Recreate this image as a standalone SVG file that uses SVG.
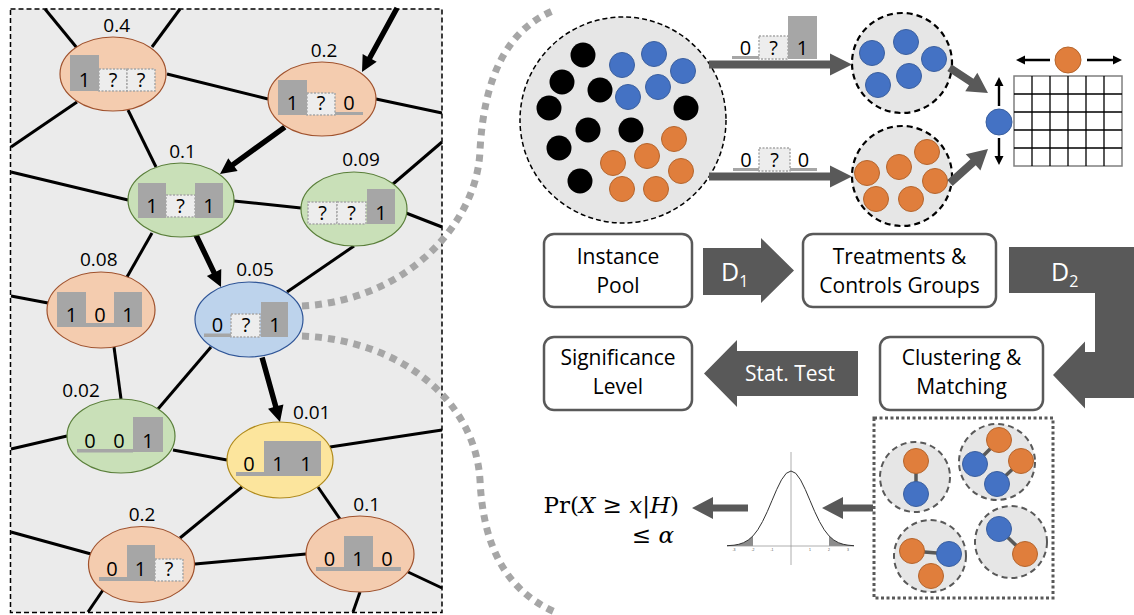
<svg xmlns="http://www.w3.org/2000/svg" width="1134" height="615" viewBox="0 0 1134 615">
<defs>
<style>
.lbl{font-family:"Open Sans","Liberation Sans",sans-serif;font-size:19px;fill:#000;text-anchor:middle}
.dig{font-family:"Open Sans","Liberation Sans",sans-serif;font-size:20px;fill:#000;text-anchor:middle}
.edge{stroke:#000;stroke-width:3;fill:none}
.or{fill:#F4CCAF;stroke:#A0522D;stroke-width:1.2}
.gr{fill:#C9E0B8;stroke:#5A7F3A;stroke-width:1.2}
.bl{fill:#BDD3EC;stroke:#2F5597;stroke-width:1.2}
.ye{fill:#FCE59D;stroke:#B08A1A;stroke-width:1.2}
.bar{fill:#A6A6A6}
.unk{fill:#EDEDED;stroke:#A6A6A6;stroke-width:1.5;stroke-dasharray:2 1.5}
.dk{fill:#595959}
.box{fill:#fff;stroke:#595959;stroke-width:2.5}
.bt{font-family:"Open Sans","Liberation Sans",sans-serif;font-size:21px;fill:#000;text-anchor:middle}
.wt{font-family:"Open Sans","Liberation Sans",sans-serif;font-size:21px;fill:#fff}
.dd{font-family:"Open Sans","Liberation Sans",sans-serif;font-size:25px;fill:#fff}
.sub{font-size:16px}
.db{fill:#4472C4;stroke:#3A5F9F;stroke-width:1}
.do{fill:#E07E3C;stroke:#B5652D;stroke-width:1}
.dbk{fill:#000}
.pool{fill:#E6E6E6;stroke:#000;stroke-width:1.5;stroke-dasharray:5 3}
.sc{fill:#E6E6E6;stroke:#000;stroke-width:2.2;stroke-dasharray:6 4}
.cl{fill:#E6E6E6;stroke:#595959;stroke-width:2;stroke-dasharray:6 4}
.link{stroke:#595959;stroke-width:3.5}
.gdash{fill:none;stroke:#A6A6A6;stroke-width:7;stroke-dasharray:7 6}
.blk{fill:#000}
.tick{font-family:"Liberation Sans",sans-serif;font-size:3.5px;fill:#555;text-anchor:middle}
.math{font-family:"DejaVu Serif","Liberation Serif",serif;font-size:23px;fill:#000;text-anchor:end}
</style>
</defs>
<rect width="1134" height="615" fill="#fff"/>

<!-- left panel -->
<rect id="panel" x="10.5" y="9" width="431.5" height="603.5" fill="#EBEBEB" stroke="#000" stroke-width="1.5" stroke-dasharray="5 3"/>

<g id="connectors">
  <g class="edge">
    <path d="M77,48 L45,9"/>
    <path d="M152,47 L180,9"/>
    <path d="M77,102 L11,147"/>
    <path d="M128,110 L156,167"/>
    <path d="M167,74 L268,99"/>
    <path d="M11,172 L128,200"/>
    <path d="M376,99 L442,113"/>
    <path d="M234,201 L301,208"/>
    <path d="M393,184 L442,142"/>
    <path d="M406,213 L442,227"/>
    <path d="M354,246 L287,292"/>
    <path d="M152,233 L127,277"/>
    <path d="M11,296 L48,303"/>
    <path d="M114,347 L121,399"/>
    <path d="M211,347 L158,409"/>
    <path d="M11,449 L67,436"/>
    <path d="M173,450 L227,460"/>
    <path d="M330,447 L442,430"/>
    <path d="M242,487 L180,538"/>
    <path d="M318,487 L340,519"/>
    <path d="M11,532 L91,554"/>
    <path d="M195,564 L306,554"/>
    <path d="M408,572 L442,588"/>
    <path d="M360,592 L353,612"/>
    <path d="M103,590 L88,612"/>
  </g>
  <g class="blk">
    <path transform="translate(362,72) rotate(118.7)" d="M-73,-2.7 L-16,-2.7 L-16,-8 L0,0 L-16,8 L-16,2.7 L-73,2.7 Z"/>
    <path transform="translate(220,174) rotate(144.1)" d="M-80,-2.7 L-16,-2.7 L-16,-8 L0,0 L-16,8 L-16,2.7 L-80,2.7 Z"/>
    <path transform="translate(221,287) rotate(64.3)" d="M-58,-2.7 L-16,-2.7 L-16,-8 L0,0 L-16,8 L-16,2.7 L-58,2.7 Z"/>
    <path transform="translate(280,422) rotate(74.5)" d="M-67,-2.7 L-16,-2.7 L-16,-8 L0,0 L-16,8 L-16,2.7 L-67,2.7 Z"/>
  </g>
</g>

<g id="n04">
  <ellipse cx="113" cy="74" rx="53" ry="37" class="or"/>
  <text x="116.7" y="31.7" class="lbl">0.4</text>
  <rect x="70" y="55" width="29" height="36" class="bar"/>
  <rect x="99" y="69" width="28" height="22" class="unk"/>
  <rect x="127" y="69" width="28" height="22" class="unk"/>
  <text x="84.5" y="87" class="dig">1</text><text x="113" y="87" class="dig">?</text><text x="141" y="87" class="dig">?</text>
</g>
<g id="n02a">
  <ellipse cx="322" cy="99" rx="54" ry="37" class="or"/>
  <text x="324" y="56.7" class="lbl">0.2</text>
  <rect x="278" y="80" width="29" height="35" class="bar"/>
  <rect x="307" y="93" width="28" height="22" class="unk"/>
  <rect x="335" y="112" width="28" height="3" class="bar"/>
  <text x="292.5" y="110" class="dig">1</text><text x="321" y="110" class="dig">?</text><text x="349" y="110" class="dig">0</text>
</g>
<g id="n01a">
  <ellipse cx="181" cy="200" rx="53" ry="37" class="gr"/>
  <text x="182.5" y="158" class="lbl">0.1</text>
  <rect x="138" y="183" width="28" height="35" class="bar"/>
  <rect x="166" y="195" width="29" height="22" class="unk"/>
  <rect x="195" y="183" width="28" height="35" class="bar"/>
  <text x="152" y="213" class="dig">1</text><text x="180.5" y="213" class="dig">?</text><text x="209" y="213" class="dig">1</text>
</g>
<g id="n009">
  <ellipse cx="354" cy="209" rx="53" ry="37" class="gr"/>
  <text x="361" y="165.7" class="lbl">0.09</text>
  <rect x="308" y="202" width="29" height="22" class="unk"/>
  <rect x="337" y="202" width="29" height="22" class="unk"/>
  <rect x="367" y="189" width="28" height="35" class="bar"/>
  <text x="322.5" y="220" class="dig">?</text><text x="351.5" y="220" class="dig">?</text><text x="381" y="220" class="dig">1</text>
</g>
<g id="n008">
  <ellipse cx="101" cy="310" rx="54" ry="38" class="or"/>
  <text x="98.8" y="265.7" class="lbl">0.08</text>
  <rect x="57" y="292" width="29" height="35" class="bar"/>
  <rect x="86" y="323" width="28" height="4" class="bar"/>
  <rect x="114" y="292" width="28" height="35" class="bar"/>
  <text x="71.5" y="322" class="dig">1</text><text x="100" y="322" class="dig">0</text><text x="128" y="322" class="dig">1</text>
</g>
<g id="n005">
  <ellipse cx="249" cy="319.5" rx="54" ry="37.5" class="bl"/>
  <text x="255" y="275.7" class="lbl">0.05</text>
  <rect x="204" y="333.5" width="27" height="3.5" class="bar"/>
  <rect x="231" y="314" width="29" height="23" class="unk"/>
  <rect x="261" y="302" width="27" height="35" class="bar"/>
  <text x="217.5" y="332" class="dig">0</text><text x="246" y="332" class="dig">?</text><text x="275" y="332" class="dig">1</text>
</g>
<g id="n002">
  <ellipse cx="121" cy="436" rx="54" ry="37" class="gr"/>
  <text x="81" y="396.7" class="lbl">0.02</text>
  <rect x="77" y="449" width="56" height="3.5" class="bar"/>
  <rect x="133" y="417" width="30" height="35" class="bar"/>
  <text x="90" y="448" class="dig">0</text><text x="119" y="448" class="dig">0</text><text x="148" y="448" class="dig">1</text>
</g>
<g id="n001">
  <ellipse cx="280" cy="460" rx="53" ry="38" class="ye"/>
  <text x="311.7" y="419.3" class="lbl">0.01</text>
  <rect x="236" y="472" width="28" height="4" class="bar"/>
  <rect x="264" y="441" width="57" height="35" class="bar"/>
  <text x="249" y="471" class="dig">0</text><text x="278" y="471" class="dig">1</text><text x="306" y="471" class="dig">1</text>
</g>
<g id="n02b">
  <ellipse cx="141.5" cy="564.5" rx="53" ry="38" class="or"/>
  <text x="142" y="521" class="lbl">0.2</text>
  <rect x="99" y="577" width="28" height="4" class="bar"/>
  <rect x="127" y="545" width="28" height="36" class="bar"/>
  <rect x="155" y="559" width="28" height="22" class="unk"/>
  <text x="112" y="576" class="dig">0</text><text x="140.5" y="576" class="dig">1</text><text x="169" y="576" class="dig">?</text>
</g>
<g id="n01b">
  <ellipse cx="360" cy="554" rx="54" ry="38" class="or"/>
  <text x="366.7" y="511" class="lbl">0.1</text>
  <rect x="316" y="567" width="85" height="4" class="bar"/>
  <rect x="344" y="536" width="29" height="31" class="bar"/>
  <text x="329.5" y="566" class="dig">0</text><text x="358" y="566" class="dig">1</text><text x="387" y="566" class="dig">0</text>
</g>

<!-- zoom curves -->
<g id="zoom-lines">
  <path class="gdash" d="M302,306 C410,300 478,220 480,150 C484,80 505,30 555,10"/>
  <path class="gdash" d="M302,336 C400,340 475,400 480,480 C483,545 505,590 555,612"/>
</g>

<!-- right: instance pool -->
<g id="pool">
  <circle cx="623" cy="120" r="103" class="pool"/>
  <g class="dbk">
    <circle cx="583" cy="55" r="12.5"/><circle cx="562" cy="82" r="12.5"/><circle cx="600" cy="90" r="12.5"/>
    <circle cx="549" cy="108" r="12.5"/><circle cx="588" cy="130" r="12.5"/><circle cx="631" cy="130" r="12.5"/>
    <circle cx="686" cy="108" r="12.5"/><circle cx="559" cy="148" r="12.5"/><circle cx="580" cy="181" r="12.5"/>
  </g>
  <g class="db">
    <circle cx="622" cy="65" r="12.5"/><circle cx="654" cy="54" r="12.5"/><circle cx="683" cy="71" r="12.5"/>
    <circle cx="658" cy="87" r="12.5"/><circle cx="628" cy="97" r="12.5"/>
  </g>
  <g class="do">
    <circle cx="674" cy="139" r="12.5"/><circle cx="647" cy="156" r="12.5"/><circle cx="613" cy="163" r="12.5"/>
    <circle cx="681" cy="171" r="12.5"/><circle cx="622" cy="189" r="12.5"/><circle cx="656" cy="189" r="12.5"/>
  </g>
</g>

<g id="treatment">
  <circle cx="902" cy="63" r="50" class="sc"/>
  <g class="db">
    <circle cx="872" cy="53" r="12.5"/><circle cx="906" cy="42" r="12.5"/><circle cx="934" cy="59" r="12.5"/>
    <circle cx="909" cy="76" r="12.5"/><circle cx="878" cy="85" r="12.5"/>
  </g>
</g>
<g id="control">
  <circle cx="902" cy="176" r="50" class="sc"/>
  <g class="do">
    <circle cx="927" cy="152" r="12.5"/><circle cx="899" cy="167" r="12.5"/><circle cx="867" cy="173" r="12.5"/>
    <circle cx="935" cy="181" r="12.5"/><circle cx="876" cy="199" r="12.5"/><circle cx="911" cy="199" r="12.5"/>
  </g>
</g>

<g id="grid">
  <rect x="1014" y="76" width="108" height="90" fill="#fff" stroke="#7F7F7F" stroke-width="1.5"/>
  <g stroke="#000" stroke-width="1.3">
    <path d="M1032,76V166M1050,76V166M1068,76V166M1086,76V166M1104,76V166"/>
    <path d="M1014,94H1122M1014,112H1122M1014,130H1122M1014,148H1122"/>
  </g>
  <circle cx="999" cy="122" r="13" class="db"/>
  <circle cx="1068" cy="60" r="13" class="do"/>
  <g class="blk">
    <path d="M997.8,106 V86 H994.5 L999,77 L1003.5,86 H1000.2 V106 Z"/>
    <path d="M997.8,138 V156 H994.5 L999,165 L1003.5,156 H1000.2 V138 Z"/>
    <path d="M1050,58.8 H1025 V55.5 L1016,60 L1025,64.5 V61.2 H1050 Z"/>
    <path d="M1087,58.8 H1113 V55.5 L1122,60 L1113,64.5 V61.2 H1087 Z"/>
  </g>
</g>

<g id="pool-arrows">
  <path class="dk" d="M709,60.5 H830 V53.5 L852,64.5 L830,75.5 V68.5 H709 Z"/>
  <path class="dk" d="M709,172.5 H830 V165.5 L852,176.5 L830,187.5 V180.5 H709 Z"/>
  <path class="dk" transform="translate(988,93) rotate(33.3)" d="M-46,-4 L-20,-4 L-20,-11 L0,0 L-20,11 L-20,4 L-46,4 Z"/>
  <path class="dk" transform="translate(988,149) rotate(-41.8)" d="M-51,-4 L-20,-4 L-20,-11 L0,0 L-20,11 L-20,4 L-51,4 Z"/>
  <g id="lbl-treat">
    <rect x="732" y="56" width="27" height="3" class="bar"/>
    <rect x="759" y="36" width="29" height="23" class="unk"/>
    <rect x="788" y="16" width="29" height="43" class="bar"/>
    <text x="745.5" y="55" class="dig">0</text><text x="773.5" y="55" class="dig">?</text><text x="802.5" y="55" class="dig">1</text>
  </g>
  <g id="lbl-ctrl">
    <rect x="733" y="168" width="26" height="3" class="bar"/>
    <rect x="759" y="148" width="31" height="23" class="unk"/>
    <rect x="790" y="168" width="27" height="3" class="bar"/>
    <text x="746" y="167" class="dig">0</text><text x="774.5" y="167" class="dig">?</text><text x="803.5" y="167" class="dig">0</text>
  </g>
</g>

<!-- flow -->
<g id="b-pool">
  <rect x="544" y="234" width="148" height="73" rx="10" class="box"/>
  <text x="618" y="264" class="bt">Instance</text>
  <text x="618" y="293" class="bt">Pool</text>
</g>
<g id="b-groups">
  <rect x="803" y="234" width="193" height="73" rx="10" class="box"/>
  <text x="899.5" y="264" class="bt">Treatments &amp;</text>
  <text x="899.5" y="293" class="bt">Controls Groups</text>
</g>
<g id="b-sig">
  <rect x="544" y="337" width="148" height="73" rx="10" class="box"/>
  <text x="618" y="365" class="bt">Significance</text>
  <text x="618" y="394" class="bt">Level</text>
</g>
<g id="b-clust">
  <rect x="880" y="337" width="163" height="73" rx="10" class="box"/>
  <text x="961.5" y="365" class="bt">Clustering &amp;</text>
  <text x="961.5" y="394" class="bt">Matching</text>
</g>
<g id="flow-arrows">
  <path class="dk" d="M703,248 H761 V238 L794,270.5 L761,303 V295 H703 Z"/>
  <text x="721" y="281" class="dd">D<tspan class="sub" dy="6">1</tspan></text>
  <path class="dk" d="M1009,247 H1134 V398 H1085 V408.5 L1053,375 L1085,341.5 V352 H1095 V293 H1009 Z"/>
  <text x="1051" y="281" class="dd">D<tspan class="sub" dy="6">2</tspan></text>
  <path class="dk" d="M858,351 H737 V340 L704,373.5 L737,407 V396 H858 Z"/>
  <text x="790" y="381" class="wt" text-anchor="middle">Stat. Test</text>
</g>

<g id="clusters">
  <rect x="874" y="418" width="179" height="180" fill="#fff" stroke="#595959" stroke-width="3" stroke-dasharray="3 2.5"/>
  <g id="c1">
    <circle cx="915" cy="477" r="35" class="cl"/>
    <path class="link" d="M916,461 L916,494"/>
    <circle cx="916" cy="461" r="12.5" class="do"/><circle cx="916" cy="494" r="12.5" class="db"/>
  </g>
  <g id="c2">
    <circle cx="997" cy="462" r="38" class="cl"/>
    <path class="link" d="M975,464 L999,440 M997,484 L1021,461"/>
    <circle cx="999" cy="440" r="12.5" class="do"/><circle cx="1021" cy="461" r="12.5" class="do"/>
    <circle cx="975" cy="464" r="12.5" class="db"/><circle cx="997" cy="484" r="12.5" class="db"/>
  </g>
  <g id="c3">
    <circle cx="930" cy="556" r="36" class="cl"/>
    <path class="link" d="M912,551 L949,554"/>
    <circle cx="912" cy="551" r="12.5" class="do"/><circle cx="949" cy="554" r="12.5" class="db"/><circle cx="931" cy="576" r="12.5" class="do"/>
  </g>
  <g id="c4">
    <circle cx="1011" cy="542" r="36" class="cl"/>
    <path class="link" d="M999,529 L1025,554"/>
    <circle cx="999" cy="529" r="12.5" class="db"/><circle cx="1025" cy="554" r="12.5" class="do"/>
  </g>
</g>

<g id="bottom-arrows">
  <path class="dk" d="M873,504.5 H843 V497 L822,508 L843,519 V511.5 H873 Z"/>
  <path class="dk" d="M748,504.5 H713 V497 L692,508 L713,519 V511.5 H748 Z"/>
</g>

<g id="bell">
  <path fill="#8C8C8C" d="M727,546 L727,545.7 734,545.2 738.75,544.3 743.5,542.7 748.25,540 753,535.9 L753,546 Z"/>
  <path fill="#8C8C8C" d="M829,546 L829,535.9 833.75,540 838.5,542.7 843.25,544.3 848,545.2 854,545.7 L854,546 Z"/>
  <path fill="none" stroke="#999" stroke-width="0.8" d="M727,546 H854 M791,452 V565"/>
  <path fill="none" stroke="#333" stroke-width="1" d="M727,545.7 L734,545.2 738.75,544.3 743.5,542.7 748.25,540 753,535.9 757.75,529.8 762.5,521.6 767.25,511.7 772,500.5 776.75,489.4 781.5,479.8 786.25,473.3 791,471 795.75,473.3 800.5,479.8 805.25,489.4 810,500.5 814.75,511.7 819.5,521.6 824.25,529.8 829,535.9 833.75,540 838.5,542.7 843.25,544.3 848,545.2 854,545.7"/>
  <text x="734" y="551" class="tick">-3</text><text x="753" y="551" class="tick">-2</text><text x="772" y="551" class="tick">-1</text>
  <text x="810" y="551" class="tick">1</text><text x="829" y="551" class="tick">2</text><text x="848" y="551" class="tick">3</text>
</g>

<g id="formula">
  <text x="679" y="513" class="math">Pr(<tspan font-style="italic">X</tspan> ≥ <tspan font-style="italic">x</tspan>|<tspan font-style="italic">H</tspan>)</text>
  <text x="674" y="543" class="math">≤ <tspan font-style="italic">α</tspan></text>
</g>
</svg>
